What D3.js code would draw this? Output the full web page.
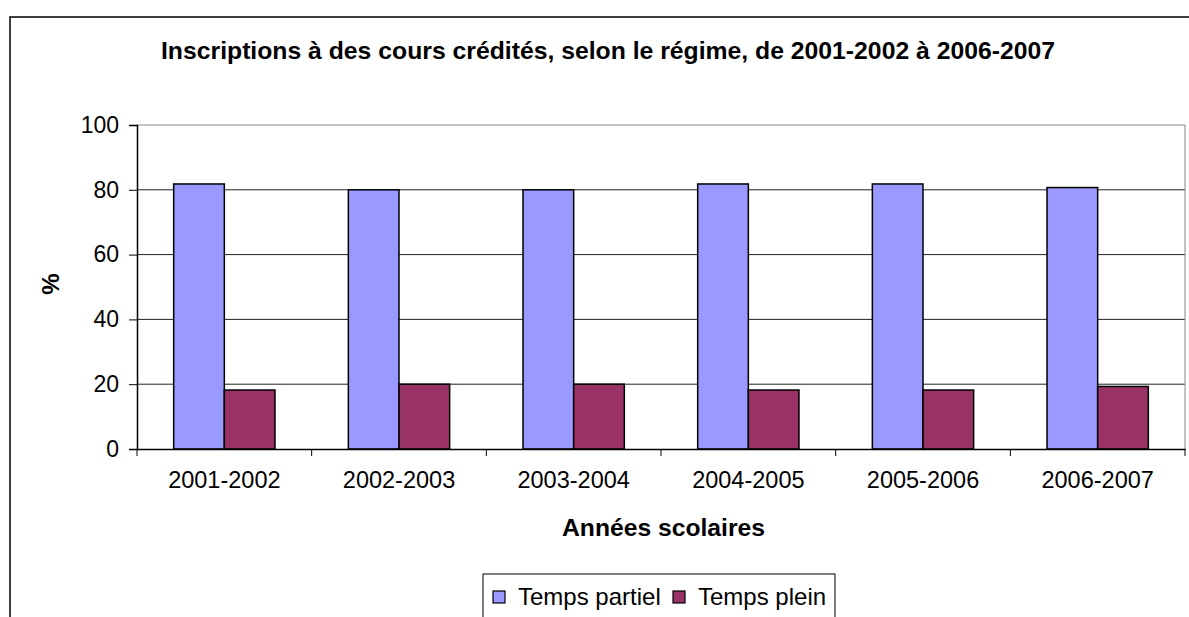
<!DOCTYPE html>
<html>
<head>
<meta charset="utf-8">
<title>Inscriptions selon le régime</title>
<script src="https://d3js.org/d3.v7.min.js"></script>
<style type="text/css">
  body { margin: 0; background: #fff; }
  svg text { font-family: Arial, "Liberation Sans", sans-serif; fill: #000; }
  .y-axis .tick text { font-size: 23px; }
  .x-axis .tick text { font-size: 23.5px; }
  .title { font-size: 24px; font-weight: bold; }
  .axis-title { font-size: 24px; font-weight: bold; }
  .legend text { font-size: 24px; }
</style>
<script type="text/javascript">

var years = ["2001-2002", "2002-2003", "2003-2004", "2004-2005", "2005-2006", "2006-2007"];
var seriesNames = ["Temps partiel", "Temps plein"];
var partiel = [81.8, 80, 80, 81.8, 81.8, 80.7];
var plein = [18.2, 20, 20, 18.2, 18.2, 19.3];
var yTicks = [0, 20, 40, 60, 80, 100];
var colors = ["#9999FF", "#993366"];

function drawChart() {
  var width = 1189, height = 617;
  var left = 137, right = 1185, top = 125, bottom = 449;

  var svg = d3.select("body").append("svg")
    .attr("width", width)
    .attr("height", height);

  // outer chart frame
  svg.append("rect")
    .attr("x", 10).attr("y", 17)
    .attr("width", 1200).attr("height", 700)
    .attr("fill", "#fff")
    .attr("stroke", "#000")
    .attr("stroke-width", 1.5);

  var x0 = d3.scaleBand().domain(years).range([left, right]).padding(0);
  var bw = x0.bandwidth();
  var x1 = d3.scaleBand().domain(seriesNames).range([bw * 0.21, bw * 0.79]);
  var y = d3.scaleLinear().domain([0, 100]).range([bottom, top]);

  // grid lines
  svg.append("g").selectAll("line")
    .data(yTicks.filter(function(d) { return d > 0; }))
    .enter().append("line")
    .attr("x1", left).attr("x2", right)
    .attr("y1", function(d) { return y(d); })
    .attr("y2", function(d) { return y(d); })
    .attr("stroke", function(d) { return d == 100 ? "#888" : "#222"; })
    .attr("stroke-width", 1);

  // right border of plot area
  svg.append("line")
    .attr("x1", right).attr("x2", right)
    .attr("y1", y(100)).attr("y2", y(0))
    .attr("stroke", "#888");

  var data = years.map(function(yr, i) {
    return { year: yr, values: [partiel[i], plein[i]] };
  });

  // bars
  var groups = svg.append("g").selectAll("g")
    .data(data)
    .enter().append("g")
    .attr("transform", function(d) { return "translate(" + x0(d.year) + ",0)"; });

  groups.selectAll("rect")
    .data(function(d) { return d.values.map(function(v, j) { return { name: seriesNames[j], value: v, j: j }; }); })
    .enter().append("rect")
    .attr("x", function(d) { return x1(d.name); })
    .attr("width", x1.bandwidth())
    .attr("y", function(d) { return y(d.value); })
    .attr("height", function(d) { return y(0) - y(d.value); })
    .attr("fill", function(d) { return colors[d.j]; })
    .attr("stroke", "#000")
    .attr("stroke-width", 1.5);

  // y axis
  var yAxis = svg.append("g")
    .attr("class", "y-axis")
    .attr("transform", "translate(" + left + ",0)")
    .call(d3.axisLeft(y).tickValues(yTicks).tickSize(8).tickPadding(10));
  yAxis.select(".domain").attr("stroke", "#000").attr("stroke-width", 1.5);
  yAxis.selectAll(".tick line").attr("stroke", "#000");

  // x axis
  var xAxis = svg.append("g")
    .attr("class", "x-axis")
    .attr("transform", "translate(0," + bottom + ")")
    .call(d3.axisBottom(x0).tickSize(0).tickPadding(22).tickSizeOuter(0));
  xAxis.select(".domain").attr("stroke", "#000").attr("stroke-width", 1.5);
  xAxis.selectAll(".tick text").attr("dy", "0.71em");

  // x ticks at category boundaries
  var bounds = years.map(function(d) { return x0(d); }).concat([right]);
  svg.append("g").selectAll("line")
    .data(bounds)
    .enter().append("line")
    .attr("x1", function(d) { return d; }).attr("x2", function(d) { return d; })
    .attr("y1", bottom).attr("y2", bottom + 7)
    .attr("stroke", "#000");

  // titles
  svg.append("text")
    .attr("class", "title")
    .attr("x", 161).attr("y", 59)
    .attr("textLength", 894)
    .attr("lengthAdjust", "spacingAndGlyphs")
    .text("Inscriptions à des cours crédités, selon le régime, de 2001-2002 à 2006-2007");

  svg.append("text")
    .attr("class", "axis-title")
    .attr("x", 562).attr("y", 536)
    .attr("textLength", 203)
    .attr("lengthAdjust", "spacingAndGlyphs")
    .text("Années scolaires");

  svg.append("text")
    .attr("class", "axis-title")
    .attr("transform", "translate(59,284) rotate(-90)")
    .attr("text-anchor", "middle")
    .text("%");

  // legend
  var legend = svg.append("g").attr("class", "legend");
  legend.append("rect")
    .attr("x", 483).attr("y", 574)
    .attr("width", 352).attr("height", 80)
    .attr("fill", "#fff")
    .attr("stroke", "#000")
    .attr("stroke-width", 1);

  var legX = [493, 673];
  seriesNames.forEach(function(name, i) {
    legend.append("rect")
      .attr("x", legX[i]).attr("y", 591)
      .attr("width", 12).attr("height", 12)
      .attr("fill", colors[i])
      .attr("stroke", "#000")
      .attr("stroke-width", 1.2);
    legend.append("text")
      .attr("x", legX[i] + 25).attr("y", 605)
      .text(name);
  });
}

window.onload = drawChart;

</script>
</head>
<body>
</body>
</html>
